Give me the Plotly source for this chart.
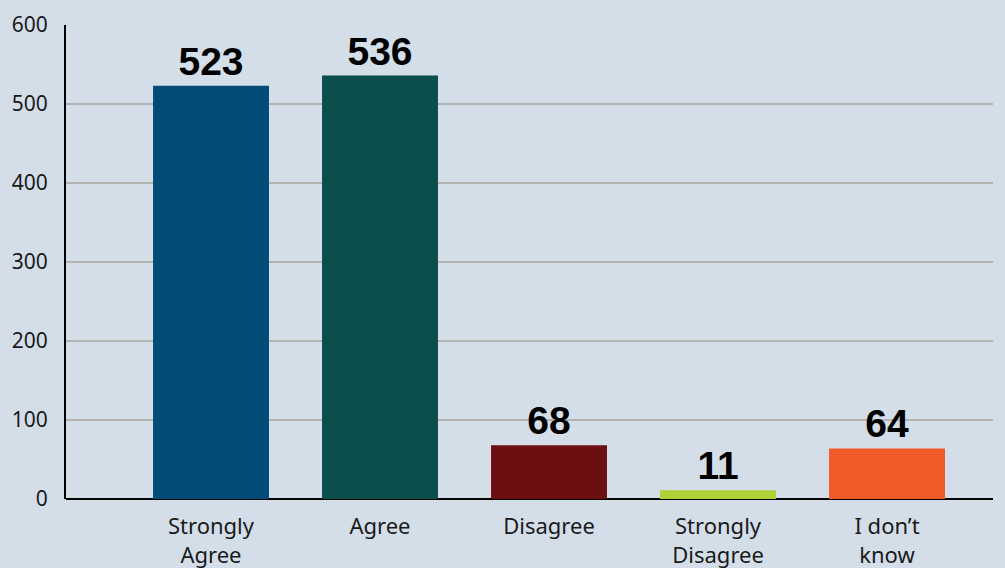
import plotly.graph_objects as go

categories = ["Strongly<br>Agree", "Agree", "Disagree", "Strongly<br>Disagree", "I don’t<br>know"]
values = [523, 536, 68, 11, 64]
colors = ["#004c76", "#0b4f4c", "#6b0f12", "#afd136", "#f15a29"]
y_ticks = [0, 100, 200, 300, 400, 500, 600]

x_pos = list(range(len(categories)))

fig = go.Figure(go.Bar(
    x=x_pos, y=values,
    marker=dict(color=colors, line=dict(width=0)),
    width=0.686,
    text=[str(v) for v in values],
    textposition="outside",
    textfont=dict(family="Liberation Sans, Arial, sans-serif", size=39, color="black", weight="bold"),
    cliponaxis=False,
))

fig.update_layout(
    width=1005, height=568,
    margin=dict(l=66, r=12, t=25, b=69, autoexpand=False),
    paper_bgcolor="#d3dee9",
    plot_bgcolor="#d3dee9",
    showlegend=False,
    font=dict(family="Noto Sans, sans-serif", size=22, color="#1a1a1a"),
    xaxis=dict(
        range=[-0.858, 4.627],
        tickmode="array", tickvals=x_pos, ticktext=categories,
        showgrid=False, zeroline=False, automargin=False,
        showline=False, ticks="", ticklabelstandoff=12,
        tickfont=dict(size=22),
    ),
    yaxis=dict(
        range=[0, 600], automargin=False,
        tickmode="array", tickvals=y_ticks,
        showgrid=True, gridcolor="#b3b3b3", gridwidth=2,
        zeroline=True, zerolinecolor="black", zerolinewidth=2,
        showline=True, linecolor="black", linewidth=2,
        ticks="", ticklabelstandoff=12,
        tickfont=dict(size=21),
    ),
    bargap=0.3,
)

fig.write_html("out.html", config={"displayModeBar": False},
               post_script=["document.body.style.margin='0';document.body.style.overflow='hidden';"])
